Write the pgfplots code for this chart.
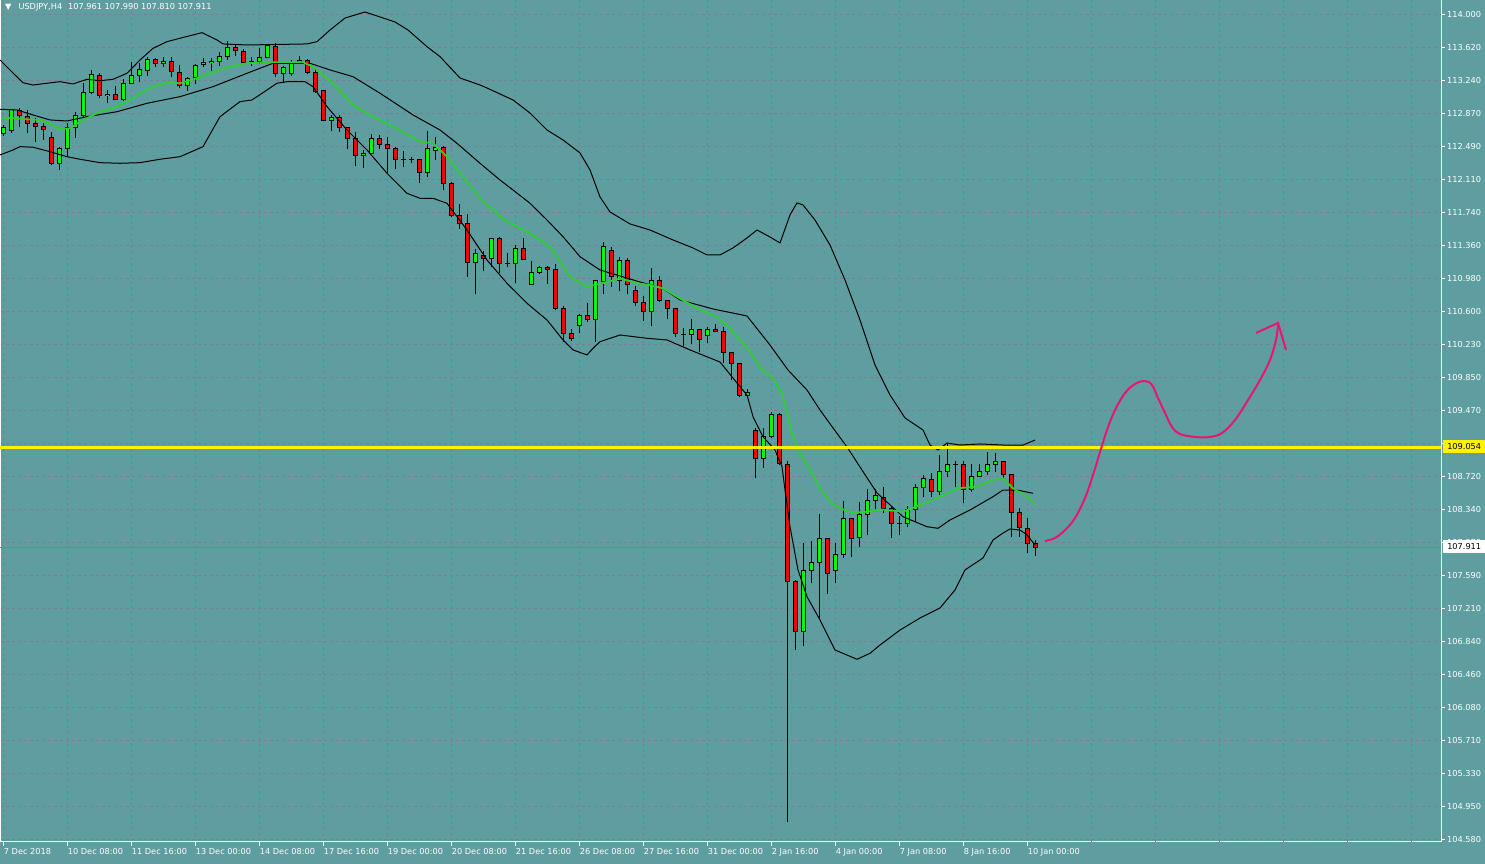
\documentclass[border=0pt]{standalone}
\usepackage{pgfplots}
\pgfplotsset{compat=1.18}
\usepackage{pgfplotstable}
\usepackage{fontspec}
\setmainfont{DejaVu Sans}
\definecolor{bgteal}{RGB}{95,158,160}
\definecolor{gridc}{RGB}{125,125,150}
\definecolor{bull}{RGB}{0,255,0}
\definecolor{bear}{RGB}{255,0,0}
\definecolor{maline}{RGB}{50,205,50}
\definecolor{pinkarr}{RGB}{232,20,120}
\definecolor{bidc}{RGB}{128,128,128}

\pgfplotstableread{
k o h l c
0 112.633 112.735 112.610 112.701
1 112.678 112.918 112.644 112.907
2 112.903 112.929 112.716 112.838
3 112.830 112.907 112.644 112.755
4 112.755 112.815 112.545 112.716
5 112.716 112.758 112.564 112.686
6 112.590 112.659 112.278 112.290
7 112.290 112.487 112.221 112.469
8 112.469 112.755 112.381 112.709
9 112.709 112.887 112.590 112.842
10 112.842 113.212 112.812 113.109
11 113.109 113.364 113.089 113.314
12 113.298 113.326 113.040 113.067
13 113.067 113.135 112.990 113.089
14 113.086 113.181 113.015 113.021
15 113.021 113.257 113.013 113.212
16 113.212 113.458 113.204 113.306
17 113.306 113.440 113.230 113.372
18 113.352 113.515 113.295 113.486
19 113.486 113.497 113.401 113.432
20 113.432 113.509 113.401 113.458
21 113.458 113.509 113.287 113.341
22 113.333 113.421 113.155 113.181
23 113.181 113.287 113.127 113.269
24 113.280 113.429 113.204 113.413
25 113.421 113.497 113.394 113.452
26 113.452 113.504 113.356 113.466
27 113.458 113.573 113.409 113.515
28 113.515 113.695 113.478 113.623
29 113.623 113.661 113.524 113.584
30 113.573 113.600 113.440 113.447
31 113.455 113.509 113.409 113.455
32 113.458 113.612 113.432 113.509
33 113.509 113.649 113.497 113.638
34 113.630 113.669 113.287 113.326
35 113.326 113.409 113.212 113.394
36 113.318 113.478 113.295 113.452
37 113.452 113.524 113.432 113.470
38 113.470 113.486 113.318 113.333
39 113.333 113.372 113.104 113.116
40 113.124 113.135 112.781 112.787
41 112.789 112.850 112.670 112.819
42 112.823 112.850 112.659 112.709
43 112.709 112.716 112.458 112.583
44 112.583 112.659 112.267 112.385
45 112.385 112.450 112.241 112.412
46 112.412 112.633 112.404 112.583
47 112.583 112.621 112.458 112.515
48 112.515 112.602 112.184 112.469
49 112.469 112.481 112.233 112.344
50 112.344 112.442 112.252 112.344
51 112.344 112.373 112.298 112.344
52 112.336 112.344 112.077 112.191
53 112.191 112.670 112.145 112.469
54 112.442 112.595 112.336 112.481
55 112.481 112.496 111.993 112.070
56 112.070 112.088 111.681 111.696
57 111.696 111.833 111.544 111.605
58 111.605 111.719 111.003 111.163
59 111.163 111.316 110.802 111.270
60 111.239 111.296 111.071 111.213
61 111.213 111.444 111.117 111.441
62 111.441 111.460 111.042 111.156
63 111.156 111.270 111.110 111.156
64 111.156 111.365 110.927 111.327
65 111.327 111.441 111.200 111.202
66 110.916 111.182 110.913 111.049
67 111.049 111.125 111.030 111.110
68 111.110 111.125 110.916 111.087
69 111.087 111.148 110.622 110.642
70 110.642 110.668 110.260 110.356
71 110.356 110.405 110.272 110.299
72 110.440 110.580 110.356 110.565
73 110.565 110.706 110.485 110.508
74 110.508 110.965 110.260 110.954
75 110.946 111.396 110.805 111.353
76 111.300 111.345 110.889 111.003
77 110.957 111.224 110.843 111.186
78 111.186 111.213 110.802 110.908
79 110.843 110.896 110.672 110.710
80 110.710 110.782 110.500 110.603
81 110.603 111.099 110.443 110.957
82 110.957 111.011 110.717 110.729
83 110.729 110.737 110.516 110.642
84 110.642 110.645 110.318 110.356
85 110.348 110.413 110.211 110.348
86 110.345 110.516 110.231 110.402
87 110.402 110.405 110.139 110.288
88 110.326 110.425 110.242 110.402
89 110.402 110.462 110.376 110.379
90 110.379 110.432 110.021 110.139
91 110.139 110.146 109.823 110.014
92 110.014 110.021 109.632 109.644
93 109.644 109.717 109.640 109.683
94 109.244 109.271 108.700 108.929
95 108.929 109.271 108.814 109.183
96 109.183 109.461 109.157 109.431
97 109.431 109.443 108.852 108.872
98 108.860 108.898 104.775 107.519
99 107.519 107.539 106.739 106.948
100 106.948 107.958 106.785 107.645
101 107.645 107.987 107.501 107.736
102 107.736 108.292 107.101 108.015
103 108.015 108.018 107.379 107.615
104 107.645 107.958 107.501 107.832
105 107.832 108.441 107.793 108.243
106 108.243 108.246 107.805 108.015
107 108.026 108.433 107.919 108.289
108 108.289 108.575 108.053 108.441
109 108.441 108.578 108.338 108.506
110 108.483 108.604 108.307 108.357
111 108.357 108.376 108.015 108.186
112 108.186 108.270 108.053 108.186
113 108.186 108.384 108.140 108.346
114 108.346 108.635 108.204 108.597
115 108.597 108.738 108.490 108.700
116 108.689 108.764 108.490 108.547
117 108.547 108.966 108.509 108.783
118 108.783 109.100 108.718 108.863
119 108.863 108.901 108.597 108.863
120 108.863 108.901 108.422 108.574
121 108.574 108.860 108.547 108.726
122 108.726 108.860 108.711 108.783
123 108.783 109.004 108.738 108.860
124 108.852 108.993 108.775 108.894
125 108.894 108.901 108.700 108.738
126 108.738 108.749 108.033 108.312
127 108.312 108.364 108.033 108.140
128 108.129 108.243 107.850 107.958
129 107.961 107.990 107.810 107.911
}\candles

\newcommand{\lfont}{\fontsize{8.2}{9.8}\selectfont}

\begin{document}
\begin{tikzpicture}
\fill[bgteal] (0pt,-22pt) rectangle (1485pt,842pt);
\begin{axis}[
  at={(0pt,0pt)}, anchor=south west,
  scale only axis, width=1441pt, height=842pt,
  xmin=0, xmax=1441, ymin=104.546, ymax=114.163,
  axis line style={white, line width=1pt},
  tick align=outside, major tick length=4pt,
  tick style={white, line width=1pt},
  xtick pos=left, xticklabel pos=left,
  ytick pos=right, yticklabel pos=right,
  grid=major,
  major grid style={gridc, line width=1pt, dash pattern=on 3pt off 3pt},
  xtick={3.7,67.7,...,1027.7},
  xticklabels={7 Dec 2018,10 Dec 08:00,11 Dec 16:00,13 Dec 00:00,14 Dec 08:00,17 Dec 16:00,19 Dec 00:00,20 Dec 08:00,21 Dec 16:00,26 Dec 08:00,27 Dec 16:00,31 Dec 00:00,2 Jan 16:00,4 Jan 00:00,7 Jan 08:00,8 Jan 16:00,10 Jan 00:00},
  extra x ticks={1091.7,1155.7,1219.7,1283.7,1347.7,1411.7},
  extra x tick labels={},
  extra x tick style={grid=major, major tick length=0pt},
  ytick={114,113.6232,113.2464,112.8696,112.4928,112.116,111.7392,111.3624,110.9856,110.6088,110.232,109.8552,109.4784,109.1016,108.7248,108.348,107.9712,107.5944,107.2176,106.8408,106.464,106.0872,105.7104,105.3336,104.9568,104.58},
  yticklabels={114.000,113.620,113.240,112.870,112.490,112.110,111.740,111.360,110.980,110.600,110.230,109.850,109.470,,108.720,108.340,107.970,107.590,107.210,106.840,106.460,106.080,105.710,105.330,104.950,104.580},
  xticklabel style={font=\lfont, text=white, anchor=north west, inner sep=0pt, yshift=-2pt},
  yticklabel style={font=\lfont, text=white, anchor=west, inner sep=0pt, xshift=2pt},
]
% bid line
\addplot[bidc, line width=1pt, forget plot] coordinates {(0,107.911) (1441,107.911)};
% wicks
\addplot[draw=none, mark=none, forget plot,
  error bars/.cd, y dir=plus, y explicit, error mark=none,
  error bar style={draw=black, line width=1pt, solid}]
  table[x expr=3.7+8*\thisrow{k}, y=l, y error plus expr={\thisrow{h}-\thisrow{l}}] {\candles};
% body outlines
\addplot[draw=none, mark=none, forget plot,
  error bars/.cd, y dir=plus, y explicit, error mark=none,
  error bar style={draw=black, line width=5pt, solid}]
  table[x expr=3.7+8*\thisrow{k}, y expr={min(\thisrow{o},\thisrow{c})-0.0057}, y error plus expr={abs(\thisrow{c}-\thisrow{o})+0.0114}] {\candles};
% bull bodies
\addplot[draw=none, mark=none, forget plot,
  restrict expr to domain={\thisrow{c}-\thisrow{o}}{0.0001:100},
  error bars/.cd, y dir=plus, y explicit, error mark=none,
  error bar style={draw=bull, line width=3pt, solid}]
  table[x expr=3.7+8*\thisrow{k}, y expr={\thisrow{o}+0.0057}, y error plus expr={max(\thisrow{c}-\thisrow{o}-0.0114,0)}] {\candles};
% bear bodies
\addplot[draw=none, mark=none, forget plot,
  restrict expr to domain={\thisrow{c}-\thisrow{o}}{-100:-0.0001},
  error bars/.cd, y dir=plus, y explicit, error mark=none,
  error bar style={draw=bear, line width=3pt, solid}]
  table[x expr=3.7+8*\thisrow{k}, y expr={\thisrow{c}+0.0057}, y error plus expr={max(\thisrow{o}-\thisrow{c}-0.0114,0)}] {\candles};
% Bollinger upper
\addplot[black, line width=1pt, forget plot] coordinates {(0,113.478) (13,113.329) (23,113.218) (33,113.192) (47,113.212) (60,113.230) (73,113.204) (87,113.257) (100,113.241) (113,113.257) (127,113.326) (140,113.478) (153,113.611) (167,113.687) (180,113.726) (202,113.790) (217,113.706) (223,113.661) (247,113.649) (307,113.661) (317,113.687) (330,113.820) (345,113.957) (365,114.026) (380,113.969) (395,113.912) (408,113.820) (427,113.630) (440,113.516) (460,113.272) (480,113.192) (487,113.158) (513,113.021) (530,112.872) (547,112.678) (563,112.564) (580,112.416) (590,112.222) (600,111.913) (610,111.742) (630,111.605) (650,111.536) (673,111.422) (693,111.331) (707,111.251) (720,111.251) (733,111.331) (747,111.445) (757,111.536) (770,111.456) (780,111.388) (790,111.708) (797,111.845) (803,111.822) (815,111.650) (830,111.365) (845,110.965) (860,110.508) (875,109.994) (890,109.652) (905,109.389) (923,109.252) (930,109.080) (938,109.023) (947,109.103) (960,109.080) (980,109.092) (1003,109.080) (1023,109.080) (1035,109.137)};
% Bollinger middle
\addplot[black, line width=1pt, forget plot] coordinates {(0,112.915) (17,112.907) (33,112.850) (50,112.793) (67,112.781) (87,112.830) (117,112.887) (147,112.983) (180,113.059) (213,113.173) (247,113.326) (273,113.440) (310,113.440) (330,113.364) (353,113.287) (380,113.098) (413,112.850) (440,112.678) (457,112.526) (480,112.298) (500,112.107) (513,111.993) (530,111.841) (547,111.650) (563,111.460) (580,111.231) (600,111.079) (620,111.011) (640,110.942) (662,110.874) (680,110.737) (713,110.634) (747,110.554) (770,110.222) (788,109.937) (807,109.708) (820,109.480) (833,109.275) (847,109.058) (860,108.829) (877,108.532) (903,108.261) (927,108.147) (938,108.129) (950,108.224) (970,108.338) (993,108.490) (1003,108.566) (1017,108.566) (1033,108.529)};
% Bollinger lower
\addplot[black, line width=1pt, forget plot] coordinates {(0,112.393) (13,112.450) (20,112.488) (33,112.481) (50,112.431) (67,112.373) (80,112.344) (100,112.305) (120,112.298) (140,112.305) (160,112.344) (180,112.373) (203,112.488) (220,112.830) (240,113.002) (252,113.021) (277,113.212) (287,113.230) (305,113.230) (313,113.173) (327,112.945) (347,112.678) (367,112.450) (387,112.184) (407,111.955) (420,111.898) (433,111.898) (447,111.841) (467,111.536) (487,111.193) (507,110.927) (527,110.699) (547,110.508) (563,110.280) (573,110.166) (587,110.109) (593,110.185) (600,110.260) (620,110.337) (647,110.299) (667,110.280) (690,110.166) (720,110.028) (740,109.746) (747,109.652) (753,109.404) (763,109.175) (775,109.023) (782,108.832) (785,108.567) (790,108.148) (798,107.653) (807,107.348) (820,107.082) (835,106.739) (857,106.633) (870,106.701) (880,106.796) (900,106.967) (920,107.104) (940,107.219) (955,107.424) (965,107.653) (983,107.790) (993,107.995) (1003,108.075) (1010,108.121) (1020,108.109) (1027,108.053) (1035,107.938)};
% green moving average
\addplot[maline, line width=1.8pt, forget plot] coordinates {(2,112.818) (13,112.812) (27,112.800) (40,112.792) (53,112.735) (60,112.686) (70,112.698) (80,112.773) (90,112.830) (100,112.887) (113,112.926) (127,113.002) (140,113.097) (153,113.173) (167,113.218) (180,113.212) (197,113.269) (223,113.383) (247,113.440) (270,113.452) (303,113.452) (313,113.401) (333,113.212) (353,112.964) (373,112.830) (393,112.716) (420,112.545) (433,112.526) (447,112.373) (463,112.145) (483,111.859) (507,111.631) (530,111.498) (550,111.345) (570,111.003) (587,110.889) (603,110.930) (620,110.984) (637,110.927) (650,110.908) (663,110.870) (677,110.774) (697,110.642) (713,110.565) (727,110.451) (740,110.280) (750,110.146) (762,109.937) (773,109.842) (782,109.671) (787,109.443) (793,109.175) (800,108.986) (810,108.795) (820,108.586) (830,108.433) (840,108.357) (853,108.307) (867,108.318) (880,108.346) (903,108.318) (920,108.395) (937,108.471) (957,108.586) (977,108.604) (993,108.681) (1003,108.700) (1013,108.586) (1027,108.490) (1035,108.407)};
% yellow level
\addplot[yellow, line width=3pt, forget plot] coordinates {(0,109.054) (1441,109.054)};
% hand drawn arrow
\addplot[pinkarr, line width=2pt, smooth, tension=0.6, forget plot] coordinates {(1045,107.984) (1055,108.018) (1065,108.109) (1075,108.246) (1085,108.475) (1093,108.738) (1100,109.000) (1107,109.252) (1115,109.480) (1125,109.674) (1135,109.777) (1145,109.811) (1152,109.766) (1158,109.617) (1165,109.446) (1172,109.286) (1180,109.206) (1195,109.172) (1210,109.172) (1222,109.217) (1235,109.366) (1248,109.594) (1260,109.823) (1270,110.051) (1276,110.280) (1278,110.451)};
\addplot[pinkarr, line width=2pt, forget plot] coordinates {(1256,110.360) (1278,110.474) (1286,110.166)};
\end{axis}
\node[anchor=west, text=white, font=\lfont, inner sep=0pt] at (5pt,835pt) {▼\hspace{7pt}USDJPY,H4\hspace{6pt}107.961 107.990 107.810 107.911};
\node[fill=yellow, text=black, font=\lfont, anchor=west, inner xsep=3pt, inner ysep=0pt, minimum height=13pt, minimum width=42pt] at (1443pt,395pt) {109.054};
\node[fill=white, text=black, font=\lfont, anchor=west, inner xsep=3pt, inner ysep=0pt, minimum height=13pt, minimum width=42pt] at (1443pt,295pt) {107.911};
\pgfresetboundingbox
\useasboundingbox (0pt,-22pt) rectangle (1485pt,842pt);
\end{tikzpicture}
\end{document}
